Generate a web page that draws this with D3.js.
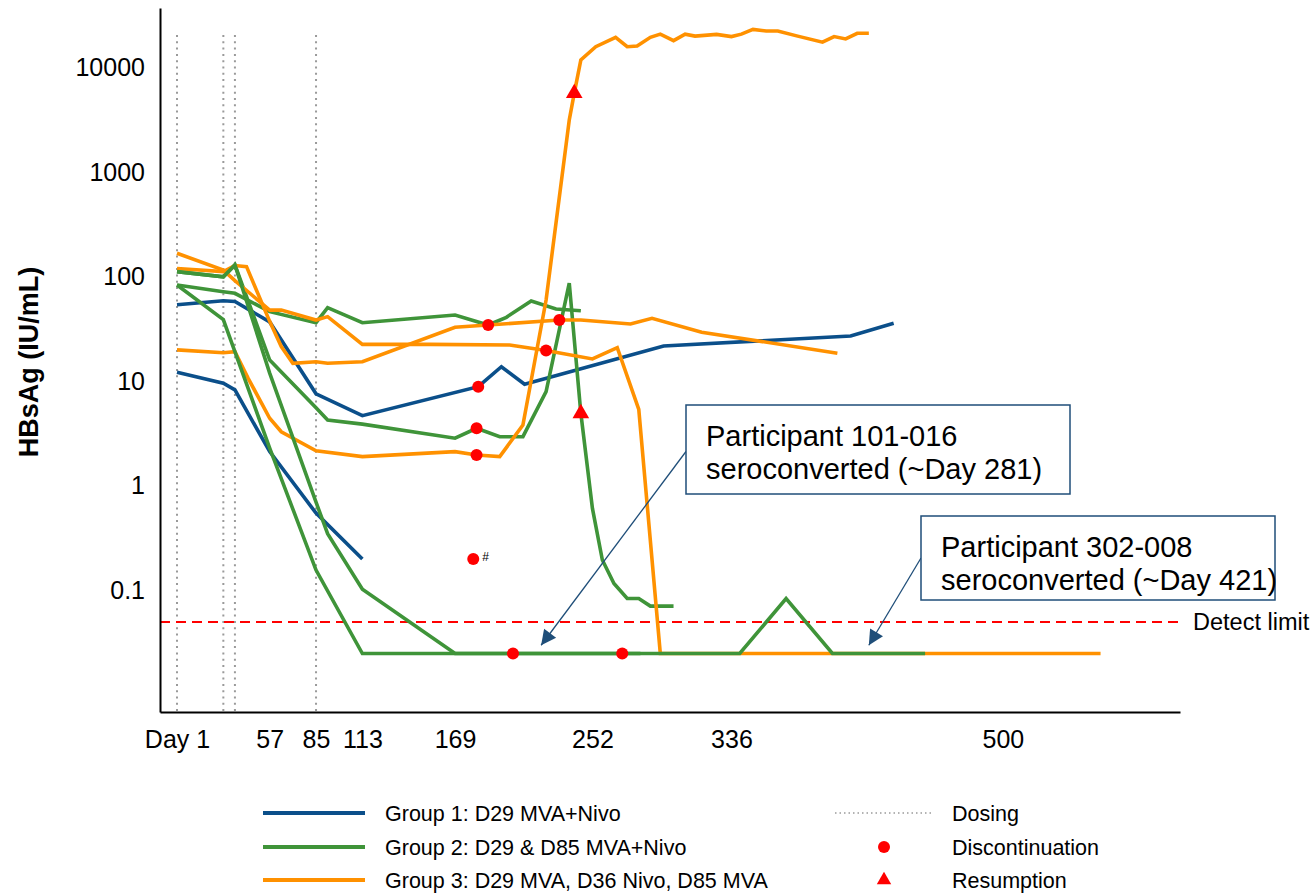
<!DOCTYPE html>
<html>
<head>
<meta charset="utf-8">
<script src="https://cdn.jsdelivr.net/npm/d3@7"></script>
<style>
  body { margin: 0; background: #fff; }
  text { font-family: "Liberation Sans", Arial, sans-serif; fill: #000; }
</style>
</head>
<body>
<svg id="chart" width="1315" height="893"></svg>
<script>
// ---- Axis ticks ----
const xTickDays = [1, 57, 85, 113, 169, 252, 336, 500];
const xTickLabels = ["Day 1", "57", "85", "113", "169", "252", "336", "500"];
const yTickValues = [0.1, 1, 10, 100, 1000, 10000];
const yTickLabels = ["0.1", "1", "10", "100", "1000", "10000"];

// ---- Dosing days and detection limit ----
const dosingDays = [1, 29, 36, 85];
const detectLimit = 0.05;

// ---- Group 1: D29 MVA+Nivo (HBsAg, IU/mL by study day) ----
const g1a = [[1, 54], [29, 59], [36, 58], [57, 37], [85, 7.6], [113, 4.7], [183, 8.9], [197, 13.8], [211, 9.4], [295, 21.8], [408, 27.2], [434, 36]];
const g1b = [[1, 12.2], [29, 9.6], [36, 8.3], [57, 2.13], [85, 0.55], [113, 0.2]];

// ---- Group 2: D29 & D85 MVA+Nivo ----
const g2a = [[1, 112], [29, 100], [36, 130], [57, 12], [85, 0.7], [92, 0.35], [113, 0.103], [169, 0.025], [341, 0.025], [369, 0.084], [397, 0.025], [453, 0.025]];
const g2b = [[1, 83.5], [29, 39], [57, 2.3], [85, 0.157], [113, 0.025], [281, 0.025]];
const g2c = [[1, 83.5], [29, 72], [36, 69.5], [57, 46.4], [85, 36.4], [92, 50.7], [113, 36.4], [169, 43.1], [189, 34.6], [200, 41], [215, 58.7], [230, 49.2], [245, 47.4]];
const g2d = [[1, 112], [29, 100], [36, 130], [57, 16], [85, 5.6], [92, 4.28], [113, 3.9], [169, 2.86], [182, 3.56], [196, 2.96], [210, 2.96], [224, 7.97], [238, 87], [245, 4.95], [252, 0.61], [258, 0.196], [265, 0.117], [273, 0.084], [280, 0.084], [287, 0.071], [301, 0.071]];

// ---- Group 3: D29 MVA, D36 Nivo, D85 MVA ----
const g3a = [[1, 168], [29, 116], [36, 92], [57, 48], [64, 48], [85, 38.6], [92, 41.6], [113, 22.6], [154, 22.6], [202, 22.3], [224, 19.7], [252, 16.4], [267, 21], [280, 5.4], [293, 0.025], [559, 0.025]];
const g3b = [[1, 120], [29, 112], [36, 128], [43, 125], [57, 37.5], [64, 21.5], [71, 14.9], [85, 15.4], [92, 14.9], [113, 15.4], [169, 32.9], [232, 38.6], [245, 38.6], [275, 35.4], [288, 40.1], [318, 29.5], [400, 18.6]];
const g3c = [[1, 20], [29, 18.8], [36, 19.2], [44, 10.7], [57, 4.44], [64, 3.3], [85, 2.17], [113, 1.91], [169, 2.13], [182, 1.98], [196, 1.91], [210, 3.83], [224, 60], [238, 3160], [241, 5680], [245, 11830], [254, 15850], [266, 19500], [273, 15850], [279, 16100], [287, 19500], [293, 20900], [301, 18100], [308, 20900], [314, 20000], [327, 20800], [336, 19800], [342, 20900], [349, 23200], [357, 22400], [364, 22400], [376, 20000], [391, 17500], [398, 19800], [405, 18800], [412, 21300], [419, 21300]];

// ---- Event markers ----
const discontinuation = [[189, 34.6], [183, 8.9], [182, 3.56], [182, 1.98], [224, 19.7], [232, 38.6], [204, 0.025], [270, 0.025], [180, 0.2]];
const footnoted = [[180, 0.2, "#"]];
const resumption = [[241, 5680], [245, 4.95]];

// ---- Annotations: label lines, arrow target day and value ----
const notes = [
  { lines: ["Participant 101-016", "seroconverted (~Day 281)"], day: 221, value: 0.03 },
  { lines: ["Participant 302-008", "seroconverted (~Day 421)"], day: 419, value: 0.03 }
];

// ---- Legend ----
const legendGroups = ["Group 1: D29 MVA+Nivo", "Group 2: D29 & D85 MVA+Nivo", "Group 3: D29 MVA, D36 Nivo, D85 MVA"];
const legendEvents = ["Dosing", "Discontinuation", "Resumption"];

const colors = { g1: "#0b4f8a", g2: "#3f9439", g3: "#ff9100", red: "#ff0000", note: "#1f4e79" };
const FONT = "'Liberation Sans', Arial, sans-serif";

const svg = d3.select("#chart");

const x = d3.scaleLinear().domain([-9.27, 607]).range([160, 1180]);
const y = d3.scaleLog().domain([0.0069, 37150]).range([712, 8]);

// dosing reference lines
svg.append("g").selectAll("line").data(dosingDays).join("line")
  .attr("x1", d => x(d)).attr("x2", d => x(d))
  .attr("y1", 35).attr("y2", 712)
  .attr("stroke", "#9a9a9a").attr("stroke-width", 2)
  .attr("stroke-dasharray", "2,4.3");

// detection limit
svg.append("line")
  .attr("x1", 160).attr("x2", 1180)
  .attr("y1", y(detectLimit)).attr("y2", y(detectLimit))
  .attr("stroke", colors.red).attr("stroke-width", 2)
  .attr("stroke-dasharray", "10,6");
svg.append("text")
  .attr("x", 1193).attr("y", y(detectLimit))
  .attr("dy", "0.35em").attr("font-size", 23.5)
  .text("Detect limit");

// axes
const xAxis = svg.append("g").attr("transform", "translate(0,712)")
  .call(d3.axisBottom(x).tickValues(xTickDays).tickSize(0).tickSizeOuter(0)
    .tickFormat((d, i) => xTickLabels[i]));
xAxis.select(".domain").attr("stroke", "#000").attr("stroke-width", 2);
xAxis.selectAll("text").attr("font-size", 25).attr("y", 0).attr("dy", "1.45em")
  .style("font-family", FONT).attr("fill", "#000");

const yAxis = svg.append("g").attr("transform", "translate(160,0)")
  .call(d3.axisLeft(y).tickValues(yTickValues).tickSize(0).tickSizeOuter(0)
    .tickFormat((d, i) => yTickLabels[i]));
yAxis.select(".domain").attr("stroke", "#000").attr("stroke-width", 2);
yAxis.selectAll("text").attr("font-size", 25).attr("x", -15)
  .style("font-family", FONT).attr("fill", "#000");

svg.append("text")
  .attr("transform", "translate(38,362) rotate(-90)")
  .attr("text-anchor", "middle").attr("font-size", 27).attr("font-weight", "bold")
  .text("HBsAg (IU/mL)");

// participant trajectories
const line = d3.line().x(d => x(d[0])).y(d => y(d[1]));
const drawOrder = [
  [g1a, colors.g1], [g1b, colors.g1],
  [g2c, colors.g2], [g2d, colors.g2],
  [g3a, colors.g3], [g3b, colors.g3], [g3c, colors.g3],
  [g2a, colors.g2], [g2b, colors.g2]
];
svg.append("g").selectAll("path").data(drawOrder).join("path")
  .attr("d", d => line(d[0]))
  .attr("fill", "none")
  .attr("stroke", d => d[1])
  .attr("stroke-width", 3.6)
  .attr("stroke-linejoin", "miter");

// discontinuation markers
svg.append("g").selectAll("circle").data(discontinuation).join("circle")
  .attr("cx", d => x(d[0])).attr("cy", d => y(d[1])).attr("r", 6)
  .attr("fill", colors.red);
svg.append("g").selectAll("text").data(footnoted).join("text")
  .attr("x", d => x(d[0]) + 9).attr("y", d => y(d[1]) + 2)
  .attr("font-size", 12).text(d => d[2]);

// resumption markers
const tri = d3.symbol().type(d3.symbolTriangle).size(120);
svg.append("g").selectAll("path").data(resumption).join("path")
  .attr("transform", d => `translate(${x(d[0])},${y(d[1])})`)
  .attr("d", tri).attr("fill", colors.red);

// annotation boxes with arrows
const defs = svg.append("defs");
defs.append("marker").attr("id", "arrowHead")
  .attr("viewBox", "0 0 10 10").attr("refX", 10).attr("refY", 5)
  .attr("markerWidth", 18).attr("markerHeight", 15)
  .attr("markerUnits", "userSpaceOnUse").attr("orient", "auto")
  .append("path").attr("d", "M0,0 L10,5 L0,10 Z").attr("fill", colors.note);

const boxes = [
  { x: 686, y: 405, w: 384, h: 89 },
  { x: 921, y: 516, w: 354, h: 84 }
];
notes.forEach((n, i) => {
  const b = boxes[i];
  svg.append("line")
    .attr("x1", b.x).attr("y1", b.y + b.h / 2 + (i === 0 ? 2 : 0))
    .attr("x2", x(n.day)).attr("y2", y(n.value))
    .attr("stroke", colors.note).attr("stroke-width", 1.3)
    .attr("marker-end", "url(#arrowHead)");
  svg.append("rect")
    .attr("x", b.x).attr("y", b.y).attr("width", b.w).attr("height", b.h)
    .attr("fill", "#fff").attr("stroke", colors.note).attr("stroke-width", 1.5);
  n.lines.forEach((t, j) => {
    svg.append("text")
      .attr("x", b.x + 20).attr("y", b.y + 41 + j * 33)
      .attr("font-size", 29).text(t);
  });
});

// legend
const lg = svg.append("g");
const rowY = [813, 847, 880];
const groupColors = [colors.g1, colors.g2, colors.g3];
legendGroups.forEach((t, i) => {
  lg.append("line").attr("x1", 263).attr("x2", 365)
    .attr("y1", rowY[i]).attr("y2", rowY[i])
    .attr("stroke", groupColors[i]).attr("stroke-width", 4);
  lg.append("text").attr("x", 385).attr("y", rowY[i]).attr("dy", "0.35em")
    .attr("font-size", 21.5).text(t);
});
lg.append("line").attr("x1", 835).attr("x2", 933)
  .attr("y1", rowY[0]).attr("y2", rowY[0])
  .attr("stroke", "#9a9a9a").attr("stroke-width", 1.5).attr("stroke-dasharray", "1.5,3");
lg.append("circle").attr("cx", 884).attr("cy", rowY[1]).attr("r", 6).attr("fill", colors.red);
lg.append("path").attr("transform", `translate(884,${rowY[2]})`)
  .attr("d", d3.symbol().type(d3.symbolTriangle).size(90)).attr("fill", colors.red);
legendEvents.forEach((t, i) => {
  lg.append("text").attr("x", 952).attr("y", rowY[i]).attr("dy", "0.35em")
    .attr("font-size", 21.5).text(t);
});
</script>
</body>
</html>
